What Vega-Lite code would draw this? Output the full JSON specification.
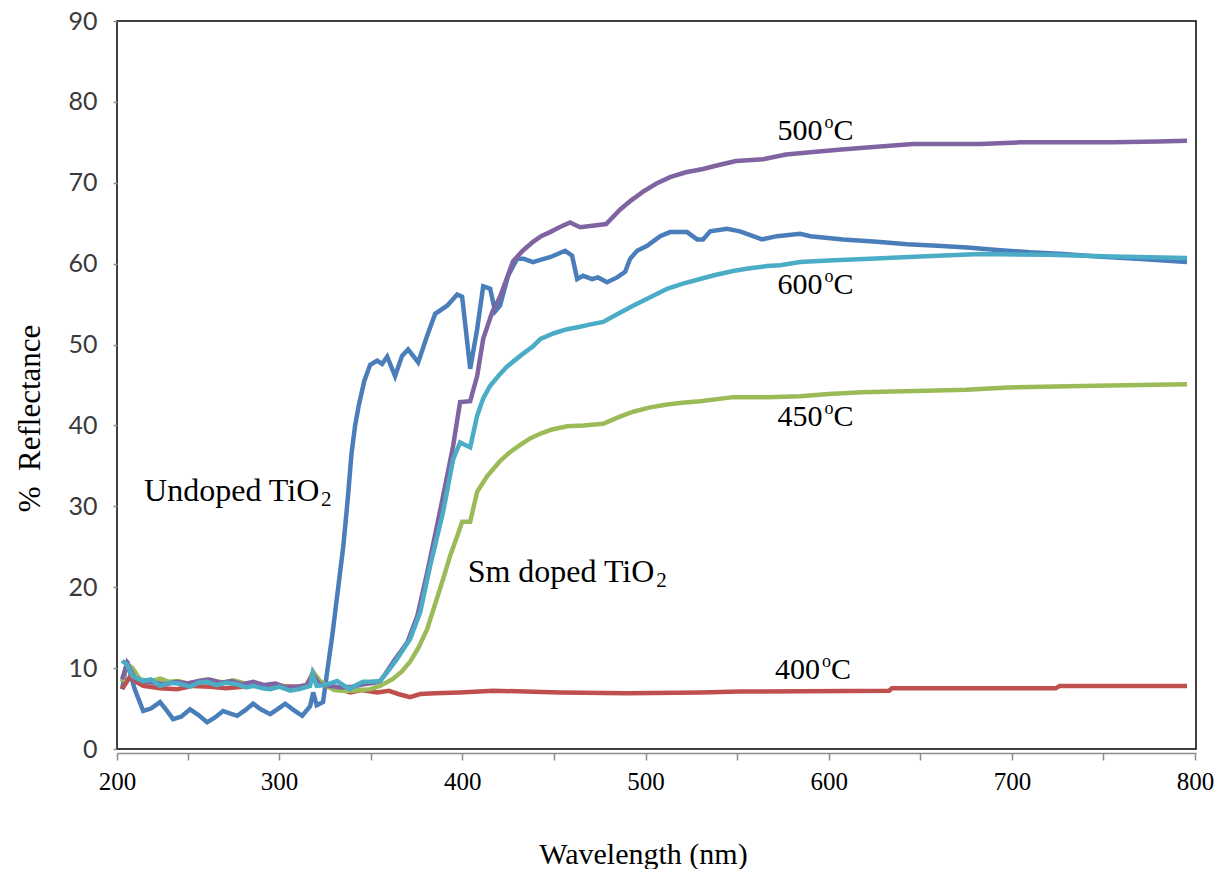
{
  "$schema": "https://vega.github.io/schema/vega-lite/v6.json",
  "width": 1079,
  "height": 728,
  "autosize": "none",
  "padding": {"left": 117, "top": 21, "right": 20, "bottom": 120},
  "config": {"view": {"stroke": "#000", "strokeWidth": 1.5}, "axis": {"grid": false}},
  "datasets": {
    "curves": [
      {"series":"Undoped","wavelength":214.3,"reflectance":7.4},{"series":"Undoped","wavelength":217.0,"reflectance":10.9},{"series":"Undoped","wavelength":221.0,"reflectance":7.5},{"series":"Undoped","wavelength":225.8,"reflectance":4.7},{"series":"Undoped","wavelength":230.0,"reflectance":5.0},{"series":"Undoped","wavelength":235.0,"reflectance":5.8},{"series":"Undoped","wavelength":238.5,"reflectance":4.8},{"series":"Undoped","wavelength":242.1,"reflectance":3.7},{"series":"Undoped","wavelength":246.5,"reflectance":4.0},{"series":"Undoped","wavelength":251.4,"reflectance":4.9},{"series":"Undoped","wavelength":256.0,"reflectance":4.2},{"series":"Undoped","wavelength":260.7,"reflectance":3.3},{"series":"Undoped","wavelength":265.0,"reflectance":3.9},{"series":"Undoped","wavelength":269.4,"reflectance":4.7},{"series":"Undoped","wavelength":273.0,"reflectance":4.4},{"series":"Undoped","wavelength":277.1,"reflectance":4.1},{"series":"Undoped","wavelength":281.5,"reflectance":4.8},{"series":"Undoped","wavelength":285.8,"reflectance":5.6},{"series":"Undoped","wavelength":290.0,"reflectance":4.9},{"series":"Undoped","wavelength":295.1,"reflectance":4.3},{"series":"Undoped","wavelength":299.0,"reflectance":4.9},{"series":"Undoped","wavelength":303.3,"reflectance":5.6},{"series":"Undoped","wavelength":308.0,"reflectance":4.8},{"series":"Undoped","wavelength":312.6,"reflectance":4.1},{"series":"Undoped","wavelength":316.9,"reflectance":5.3},{"series":"Undoped","wavelength":318.6,"reflectance":7.0},{"series":"Undoped","wavelength":320.5,"reflectance":5.4},{"series":"Undoped","wavelength":324.0,"reflectance":5.8},{"series":"Undoped","wavelength":326.2,"reflectance":9.5},{"series":"Undoped","wavelength":329.0,"reflectance":14.0},{"series":"Undoped","wavelength":332.0,"reflectance":19.5},{"series":"Undoped","wavelength":335.0,"reflectance":25.0},{"series":"Undoped","wavelength":337.5,"reflectance":31.0},{"series":"Undoped","wavelength":339.5,"reflectance":36.5},{"series":"Undoped","wavelength":341.5,"reflectance":40.0},{"series":"Undoped","wavelength":343.5,"reflectance":42.5},{"series":"Undoped","wavelength":346.5,"reflectance":45.5},{"series":"Undoped","wavelength":349.7,"reflectance":47.5},{"series":"Undoped","wavelength":353.5,"reflectance":48.0},{"series":"Undoped","wavelength":356.2,"reflectance":47.6},{"series":"Undoped","wavelength":359.0,"reflectance":48.5},{"series":"Undoped","wavelength":363.3,"reflectance":46.1},{"series":"Undoped","wavelength":367.1,"reflectance":48.6},{"series":"Undoped","wavelength":370.4,"reflectance":49.4},{"series":"Undoped","wavelength":373.5,"reflectance":48.5},{"series":"Undoped","wavelength":375.9,"reflectance":47.8},{"series":"Undoped","wavelength":380.8,"reflectance":51.1},{"series":"Undoped","wavelength":385.2,"reflectance":53.8},{"series":"Undoped","wavelength":391.7,"reflectance":54.8},{"series":"Undoped","wavelength":397.2,"reflectance":56.2},{"series":"Undoped","wavelength":399.9,"reflectance":55.9},{"series":"Undoped","wavelength":404.3,"reflectance":47.0},{"series":"Undoped","wavelength":408.1,"reflectance":51.9},{"series":"Undoped","wavelength":411.4,"reflectance":57.2},{"series":"Undoped","wavelength":415.2,"reflectance":56.9},{"series":"Undoped","wavelength":417.9,"reflectance":54.1},{"series":"Undoped","wavelength":420.6,"reflectance":54.8},{"series":"Undoped","wavelength":425.0,"reflectance":58.5},{"series":"Undoped","wavelength":429.9,"reflectance":60.6},{"series":"Undoped","wavelength":433.5,"reflectance":60.6},{"series":"Undoped","wavelength":438.6,"reflectance":60.2},{"series":"Undoped","wavelength":443.0,"reflectance":60.5},{"series":"Undoped","wavelength":447.9,"reflectance":60.8},{"series":"Undoped","wavelength":452.0,"reflectance":61.2},{"series":"Undoped","wavelength":456.1,"reflectance":61.6},{"series":"Undoped","wavelength":459.9,"reflectance":61.0},{"series":"Undoped","wavelength":462.7,"reflectance":58.1},{"series":"Undoped","wavelength":465.9,"reflectance":58.5},{"series":"Undoped","wavelength":470.9,"reflectance":58.1},{"series":"Undoped","wavelength":474.1,"reflectance":58.3},{"series":"Undoped","wavelength":479.0,"reflectance":57.7},{"series":"Undoped","wavelength":484.5,"reflectance":58.3},{"series":"Undoped","wavelength":488.9,"reflectance":59.0},{"series":"Undoped","wavelength":491.6,"reflectance":60.6},{"series":"Undoped","wavelength":495.4,"reflectance":61.6},{"series":"Undoped","wavelength":500.9,"reflectance":62.2},{"series":"Undoped","wavelength":508.0,"reflectance":63.4},{"series":"Undoped","wavelength":513.4,"reflectance":63.9},{"series":"Undoped","wavelength":522.7,"reflectance":63.9},{"series":"Undoped","wavelength":528.2,"reflectance":63.0},{"series":"Undoped","wavelength":531.4,"reflectance":63.0},{"series":"Undoped","wavelength":535.3,"reflectance":64.0},{"series":"Undoped","wavelength":544.5,"reflectance":64.3},{"series":"Undoped","wavelength":551.6,"reflectance":64.0},{"series":"Undoped","wavelength":558.7,"reflectance":63.4},{"series":"Undoped","wavelength":563.6,"reflectance":63.0},{"series":"Undoped","wavelength":571.8,"reflectance":63.4},{"series":"Undoped","wavelength":584.4,"reflectance":63.7},{"series":"Undoped","wavelength":590.0,"reflectance":63.4},{"series":"Undoped","wavelength":607.9,"reflectance":63.0},{"series":"Undoped","wavelength":626.4,"reflectance":62.7},{"series":"Undoped","wavelength":642.8,"reflectance":62.4},{"series":"Undoped","wavelength":659.2,"reflectance":62.2},{"series":"Undoped","wavelength":675.5,"reflectance":62.0},{"series":"Undoped","wavelength":691.9,"reflectance":61.7},{"series":"Undoped","wavelength":709.9,"reflectance":61.4},{"series":"Undoped","wavelength":728.0,"reflectance":61.2},{"series":"Undoped","wavelength":746.5,"reflectance":60.9},{"series":"Undoped","wavelength":768.3,"reflectance":60.6},{"series":"Undoped","wavelength":795.6,"reflectance":60.2},

      {"series":"400","wavelength":214.3,"reflectance":7.4},{"series":"400","wavelength":218.7,"reflectance":9.0},{"series":"400","wavelength":222.0,"reflectance":8.3},{"series":"400","wavelength":225.8,"reflectance":7.8},{"series":"400","wavelength":235.0,"reflectance":7.5},{"series":"400","wavelength":244.3,"reflectance":7.4},{"series":"400","wavelength":253.0,"reflectance":7.8},{"series":"400","wavelength":262.3,"reflectance":7.7},{"series":"400","wavelength":271.0,"reflectance":7.5},{"series":"400","wavelength":280.3,"reflectance":7.7},{"series":"400","wavelength":289.0,"reflectance":7.9},{"series":"400","wavelength":298.9,"reflectance":7.8},{"series":"400","wavelength":309.8,"reflectance":7.7},{"series":"400","wavelength":315.0,"reflectance":7.9},{"series":"400","wavelength":318.6,"reflectance":9.5},{"series":"400","wavelength":322.0,"reflectance":8.2},{"series":"400","wavelength":326.2,"reflectance":7.7},{"series":"400","wavelength":332.0,"reflectance":7.5},{"series":"400","wavelength":338.8,"reflectance":7.0},{"series":"400","wavelength":345.0,"reflectance":7.3},{"series":"400","wavelength":353.5,"reflectance":7.0},{"series":"400","wavelength":360.0,"reflectance":7.2},{"series":"400","wavelength":365.0,"reflectance":6.8},{"series":"400","wavelength":371.5,"reflectance":6.4},{"series":"400","wavelength":377.0,"reflectance":6.8},{"series":"400","wavelength":385.0,"reflectance":6.9},{"series":"400","wavelength":398.8,"reflectance":7.0},{"series":"400","wavelength":416.8,"reflectance":7.2},{"series":"400","wavelength":453.4,"reflectance":7.0},{"series":"400","wavelength":490.0,"reflectance":6.9},{"series":"400","wavelength":530.0,"reflectance":7.0},{"series":"400","wavelength":551.6,"reflectance":7.1},{"series":"400","wavelength":633.0,"reflectance":7.2},{"series":"400","wavelength":634.5,"reflectance":7.5},{"series":"400","wavelength":724.0,"reflectance":7.5},{"series":"400","wavelength":726.0,"reflectance":7.8},{"series":"400","wavelength":795.6,"reflectance":7.8},

      {"series":"450","wavelength":214.3,"reflectance":8.3},{"series":"450","wavelength":217.0,"reflectance":10.5},{"series":"450","wavelength":220.0,"reflectance":10.0},{"series":"450","wavelength":224.0,"reflectance":8.6},{"series":"450","wavelength":230.0,"reflectance":8.4},{"series":"450","wavelength":235.0,"reflectance":8.7},{"series":"450","wavelength":240.0,"reflectance":8.3},{"series":"450","wavelength":245.0,"reflectance":8.4},{"series":"450","wavelength":250.0,"reflectance":8.1},{"series":"450","wavelength":255.0,"reflectance":8.3},{"series":"450","wavelength":260.0,"reflectance":8.6},{"series":"450","wavelength":265.0,"reflectance":8.4},{"series":"450","wavelength":270.0,"reflectance":8.2},{"series":"450","wavelength":275.0,"reflectance":8.5},{"series":"450","wavelength":280.0,"reflectance":8.2},{"series":"450","wavelength":285.0,"reflectance":8.0},{"series":"450","wavelength":290.0,"reflectance":7.9},{"series":"450","wavelength":295.0,"reflectance":7.7},{"series":"450","wavelength":300.0,"reflectance":7.9},{"series":"450","wavelength":305.0,"reflectance":7.6},{"series":"450","wavelength":310.0,"reflectance":7.7},{"series":"450","wavelength":315.0,"reflectance":7.8},{"series":"450","wavelength":318.6,"reflectance":9.5},{"series":"450","wavelength":322.0,"reflectance":8.5},{"series":"450","wavelength":326.0,"reflectance":7.8},{"series":"450","wavelength":330.0,"reflectance":7.3},{"series":"450","wavelength":335.0,"reflectance":7.2},{"series":"450","wavelength":340.0,"reflectance":7.2},{"series":"450","wavelength":345.0,"reflectance":7.3},{"series":"450","wavelength":350.0,"reflectance":7.4},{"series":"450","wavelength":355.1,"reflectance":7.8},{"series":"450","wavelength":362.3,"reflectance":8.7},{"series":"450","wavelength":367.0,"reflectance":9.6},{"series":"450","wavelength":371.5,"reflectance":10.8},{"series":"450","wavelength":376.0,"reflectance":12.5},{"series":"450","wavelength":380.8,"reflectance":14.8},{"series":"450","wavelength":385.0,"reflectance":17.8},{"series":"450","wavelength":389.5,"reflectance":21.0},{"series":"450","wavelength":393.5,"reflectance":24.0},{"series":"450","wavelength":397.2,"reflectance":26.3},{"series":"450","wavelength":399.9,"reflectance":28.1},{"series":"450","wavelength":404.3,"reflectance":28.1},{"series":"450","wavelength":408.1,"reflectance":31.8},{"series":"450","wavelength":413.5,"reflectance":33.7},{"series":"450","wavelength":420.6,"reflectance":35.6},{"series":"450","wavelength":426.0,"reflectance":36.7},{"series":"450","wavelength":431.6,"reflectance":37.6},{"series":"450","wavelength":437.0,"reflectance":38.4},{"series":"450","wavelength":442.7,"reflectance":39.0},{"series":"450","wavelength":449.0,"reflectance":39.5},{"series":"450","wavelength":457.2,"reflectance":39.9},{"series":"450","wavelength":466.0,"reflectance":40.0},{"series":"450","wavelength":476.9,"reflectance":40.2},{"series":"450","wavelength":485.0,"reflectance":41.0},{"series":"450","wavelength":493.2,"reflectance":41.7},{"series":"450","wavelength":502.0,"reflectance":42.2},{"series":"450","wavelength":511.8,"reflectance":42.6},{"series":"450","wavelength":520.0,"reflectance":42.8},{"series":"450","wavelength":529.8,"reflectance":43.0},{"series":"450","wavelength":547.8,"reflectance":43.5},{"series":"450","wavelength":566.4,"reflectance":43.5},{"series":"450","wavelength":584.4,"reflectance":43.6},{"series":"450","wavelength":600.0,"reflectance":43.9},{"series":"450","wavelength":618.0,"reflectance":44.1},{"series":"450","wavelength":653.0,"reflectance":44.3},{"series":"450","wavelength":675.0,"reflectance":44.4},{"series":"450","wavelength":698.0,"reflectance":44.7},{"series":"450","wavelength":746.0,"reflectance":44.9},{"series":"450","wavelength":770.0,"reflectance":45.0},{"series":"450","wavelength":795.6,"reflectance":45.1},

      {"series":"500","wavelength":214.3,"reflectance":8.6},{"series":"500","wavelength":217.0,"reflectance":10.6},{"series":"500","wavelength":221.0,"reflectance":8.8},{"series":"500","wavelength":226.0,"reflectance":8.3},{"series":"500","wavelength":232.0,"reflectance":8.2},{"series":"500","wavelength":238.0,"reflectance":8.0},{"series":"500","wavelength":244.0,"reflectance":8.3},{"series":"500","wavelength":250.0,"reflectance":8.1},{"series":"500","wavelength":256.0,"reflectance":8.4},{"series":"500","wavelength":262.0,"reflectance":8.6},{"series":"500","wavelength":268.0,"reflectance":8.2},{"series":"500","wavelength":274.0,"reflectance":8.4},{"series":"500","wavelength":280.0,"reflectance":8.0},{"series":"500","wavelength":286.0,"reflectance":8.3},{"series":"500","wavelength":292.0,"reflectance":7.9},{"series":"500","wavelength":298.0,"reflectance":8.1},{"series":"500","wavelength":304.0,"reflectance":7.6},{"series":"500","wavelength":310.0,"reflectance":7.7},{"series":"500","wavelength":315.0,"reflectance":7.9},{"series":"500","wavelength":318.6,"reflectance":9.2},{"series":"500","wavelength":322.0,"reflectance":8.0},{"series":"500","wavelength":328.0,"reflectance":7.8},{"series":"500","wavelength":334.0,"reflectance":7.6},{"series":"500","wavelength":340.0,"reflectance":7.7},{"series":"500","wavelength":346.0,"reflectance":8.0},{"series":"500","wavelength":352.0,"reflectance":8.2},{"series":"500","wavelength":355.1,"reflectance":8.4},{"series":"500","wavelength":358.0,"reflectance":9.3},{"series":"500","wavelength":363.0,"reflectance":11.0},{"series":"500","wavelength":370.0,"reflectance":13.2},{"series":"500","wavelength":375.5,"reflectance":16.5},{"series":"500","wavelength":381.0,"reflectance":22.0},{"series":"500","wavelength":387.0,"reflectance":28.5},{"series":"500","wavelength":391.5,"reflectance":33.5},{"series":"500","wavelength":395.0,"reflectance":37.5},{"series":"500","wavelength":397.8,"reflectance":41.5},{"series":"500","wavelength":398.8,"reflectance":42.9},{"series":"500","wavelength":404.3,"reflectance":43.0},{"series":"500","wavelength":408.1,"reflectance":46.1},{"series":"500","wavelength":411.4,"reflectance":50.7},{"series":"500","wavelength":416.3,"reflectance":54.0},{"series":"500","wavelength":420.6,"reflectance":55.9},{"series":"500","wavelength":427.7,"reflectance":60.3},{"series":"500","wavelength":433.0,"reflectance":61.6},{"series":"500","wavelength":438.6,"reflectance":62.7},{"series":"500","wavelength":443.0,"reflectance":63.4},{"series":"500","wavelength":447.9,"reflectance":63.9},{"series":"500","wavelength":453.0,"reflectance":64.5},{"series":"500","wavelength":458.8,"reflectance":65.1},{"series":"500","wavelength":464.3,"reflectance":64.5},{"series":"500","wavelength":471.0,"reflectance":64.7},{"series":"500","wavelength":478.5,"reflectance":64.9},{"series":"500","wavelength":486.2,"reflectance":66.7},{"series":"500","wavelength":492.0,"reflectance":67.8},{"series":"500","wavelength":498.7,"reflectance":68.9},{"series":"500","wavelength":506.0,"reflectance":69.9},{"series":"500","wavelength":513.4,"reflectance":70.7},{"series":"500","wavelength":522.0,"reflectance":71.3},{"series":"500","wavelength":531.4,"reflectance":71.7},{"series":"500","wavelength":540.0,"reflectance":72.2},{"series":"500","wavelength":549.4,"reflectance":72.7},{"series":"500","wavelength":564.2,"reflectance":72.9},{"series":"500","wavelength":576.7,"reflectance":73.5},{"series":"500","wavelength":591.5,"reflectance":73.8},{"series":"500","wavelength":607.0,"reflectance":74.1},{"series":"500","wavelength":622.6,"reflectance":74.4},{"series":"500","wavelength":646.1,"reflectance":74.8},{"series":"500","wavelength":682.6,"reflectance":74.8},{"series":"500","wavelength":704.5,"reflectance":75.0},{"series":"500","wavelength":755.2,"reflectance":75.0},{"series":"500","wavelength":780.0,"reflectance":75.1},{"series":"500","wavelength":795.6,"reflectance":75.2},

      {"series":"600","wavelength":214.3,"reflectance":10.9},{"series":"600","wavelength":217.0,"reflectance":10.4},{"series":"600","wavelength":220.0,"reflectance":9.0},{"series":"600","wavelength":225.8,"reflectance":8.4},{"series":"600","wavelength":230.0,"reflectance":8.6},{"series":"600","wavelength":235.0,"reflectance":7.8},{"series":"600","wavelength":240.0,"reflectance":8.2},{"series":"600","wavelength":245.0,"reflectance":8.1},{"series":"600","wavelength":251.4,"reflectance":7.7},{"series":"600","wavelength":256.0,"reflectance":8.2},{"series":"600","wavelength":260.7,"reflectance":8.3},{"series":"600","wavelength":266.0,"reflectance":7.9},{"series":"600","wavelength":271.0,"reflectance":8.2},{"series":"600","wavelength":277.1,"reflectance":8.0},{"series":"600","wavelength":282.0,"reflectance":7.6},{"series":"600","wavelength":286.0,"reflectance":7.8},{"series":"600","wavelength":291.0,"reflectance":7.5},{"series":"600","wavelength":295.1,"reflectance":7.4},{"series":"600","wavelength":300.0,"reflectance":7.7},{"series":"600","wavelength":306.0,"reflectance":7.2},{"series":"600","wavelength":311.0,"reflectance":7.4},{"series":"600","wavelength":316.9,"reflectance":7.8},{"series":"600","wavelength":318.2,"reflectance":9.3},{"series":"600","wavelength":320.5,"reflectance":7.8},{"series":"600","wavelength":325.0,"reflectance":7.9},{"series":"600","wavelength":331.7,"reflectance":8.4},{"series":"600","wavelength":335.0,"reflectance":7.9},{"series":"600","wavelength":338.8,"reflectance":7.4},{"series":"600","wavelength":342.0,"reflectance":7.9},{"series":"600","wavelength":345.8,"reflectance":8.3},{"series":"600","wavelength":350.0,"reflectance":8.3},{"series":"600","wavelength":355.1,"reflectance":8.4},{"series":"600","wavelength":359.0,"reflectance":9.5},{"series":"600","wavelength":364.0,"reflectance":11.0},{"series":"600","wavelength":371.5,"reflectance":13.6},{"series":"600","wavelength":377.0,"reflectance":16.9},{"series":"600","wavelength":382.4,"reflectance":22.6},{"series":"600","wavelength":389.5,"reflectance":29.3},{"series":"600","wavelength":395.0,"reflectance":35.8},{"series":"600","wavelength":398.8,"reflectance":37.9},{"series":"600","wavelength":400.4,"reflectance":37.7},{"series":"600","wavelength":404.3,"reflectance":37.3},{"series":"600","wavelength":408.1,"reflectance":41.2},{"series":"600","wavelength":411.5,"reflectance":43.4},{"series":"600","wavelength":415.2,"reflectance":44.9},{"series":"600","wavelength":420.0,"reflectance":46.2},{"series":"600","wavelength":424.5,"reflectance":47.3},{"series":"600","wavelength":431.6,"reflectance":48.6},{"series":"600","wavelength":438.6,"reflectance":49.8},{"series":"600","wavelength":442.7,"reflectance":50.7},{"series":"600","wavelength":450.0,"reflectance":51.4},{"series":"600","wavelength":457.2,"reflectance":51.9},{"series":"600","wavelength":464.3,"reflectance":52.2},{"series":"600","wavelength":470.0,"reflectance":52.5},{"series":"600","wavelength":476.9,"reflectance":52.8},{"series":"600","wavelength":485.0,"reflectance":53.8},{"series":"600","wavelength":493.2,"reflectance":54.8},{"series":"600","wavelength":502.0,"reflectance":55.8},{"series":"600","wavelength":511.8,"reflectance":56.9},{"series":"600","wavelength":520.0,"reflectance":57.5},{"series":"600","wavelength":529.8,"reflectance":58.1},{"series":"600","wavelength":538.0,"reflectance":58.6},{"series":"600","wavelength":547.8,"reflectance":59.1},{"series":"600","wavelength":556.0,"reflectance":59.4},{"series":"600","wavelength":566.4,"reflectance":59.7},{"series":"600","wavelength":573.5,"reflectance":59.8},{"series":"600","wavelength":584.4,"reflectance":60.2},{"series":"600","wavelength":600.0,"reflectance":60.4},{"series":"600","wavelength":622.6,"reflectance":60.6},{"series":"600","wavelength":649.9,"reflectance":60.9},{"series":"600","wavelength":682.6,"reflectance":61.2},{"series":"600","wavelength":719.2,"reflectance":61.1},{"series":"600","wavelength":755.2,"reflectance":60.9},{"series":"600","wavelength":795.6,"reflectance":60.7}
    ],
    "temps": [
      {"wavelength":572.0,"reflectance":75.3,"label":"500"},
      {"wavelength":572.0,"reflectance":56.2,"label":"600"},
      {"wavelength":572.0,"reflectance":39.9,"label":"450"},
      {"wavelength":570.7,"reflectance":8.65,"label":"400"}
    ],
    "samples": [
      {"wavelength":226.3,"reflectance":30.7,"label":"Undoped TiO","sub":322.9},
      {"wavelength":402.9,"reflectance":20.6,"label":"Sm doped TiO","sub":505.8}
    ]
  },
  "layer": [
    {
      "data": {"name": "curves"},
      "mark": {"type": "line", "strokeWidth": 4.5},
      "encoding": {
        "x": {
          "field": "wavelength", "type": "quantitative",
          "scale": {"domain": [211.5, 800.5], "nice": false, "zero": false},
          "axis": {
            "orient": "bottom", "offset": 4,
            "values": [211.5, 250, 300, 350, 400, 450, 500, 550, 600, 650, 700, 750, 800],
            "labelExpr": "datum.value < 240 ? '200' : (datum.value % 100 == 0 ? datum.label : '')",
            "labelFlush": false, "labelOverlap": false,
            "domainColor": "#8c8c8c", "domainWidth": 1.5,
            "tickColor": "#8c8c8c", "tickSize": 7, "tickWidth": 1.5,
            "labelFont": "Liberation Serif", "labelFontSize": 25, "labelColor": "#000", "labelPadding": 9,
            "title": "Wavelength (nm)", "titleFont": "Liberation Serif", "titleFontSize": 30,
            "titleFontWeight": "normal", "titleColor": "#000",
            "titleX": 526, "titleY": 110, "titleAlign": "center", "titleBaseline": "alphabetic"
          }
        },
        "y": {
          "field": "reflectance", "type": "quantitative",
          "scale": {"domain": [0, 90], "nice": false},
          "axis": {
            "values": [0, 10, 20, 30, 40, 50, 60, 70, 80, 90],
            "domain": false, "tickColor": "#8c8c8c", "tickSize": 4, "tickWidth": 1.5,
            "labelFont": "Lato", "labelFontSize": 25, "labelColor": "#3a3a3a", "labelPadding": 16,
            "title": "% \u00a0Reflectance", "titleFont": "Liberation Serif", "titleFontSize": 31,
            "titleFontWeight": "normal", "titleColor": "#000",
            "titleX": -87, "titleY": 397, "titleAngle": -90, "titleAlign": "center", "titleBaseline": "middle"
          }
        },
        "color": {
          "field": "series", "type": "nominal",
          "scale": {"domain": ["Undoped", "400", "450", "500", "600"], "range": ["#4A7EBB", "#C0504D", "#9BBB59", "#8064A2", "#4BACC6"]},
          "legend": null
        }
      }
    },
    {
      "data": {"name": "temps"},
      "mark": {"type": "text", "align": "left", "baseline": "alphabetic", "font": "Liberation Serif", "fontSize": 30, "color": "#000"},
      "encoding": {
        "x": {"field": "wavelength", "type": "quantitative"},
        "y": {"field": "reflectance", "type": "quantitative"},
        "text": {"field": "label"}
      }
    },
    {
      "data": {"name": "temps"},
      "mark": {"type": "text", "align": "left", "baseline": "alphabetic", "font": "Liberation Serif", "fontSize": 18, "color": "#000", "dx": 47, "dy": -12},
      "encoding": {
        "x": {"field": "wavelength", "type": "quantitative"},
        "y": {"field": "reflectance", "type": "quantitative"},
        "text": {"value": "o"}
      }
    },
    {
      "data": {"name": "temps"},
      "mark": {"type": "text", "align": "left", "baseline": "alphabetic", "font": "Liberation Serif", "fontSize": 30, "color": "#000", "dx": 56},
      "encoding": {
        "x": {"field": "wavelength", "type": "quantitative"},
        "y": {"field": "reflectance", "type": "quantitative"},
        "text": {"value": "C"}
      }
    },
    {
      "data": {"name": "samples"},
      "mark": {"type": "text", "align": "left", "baseline": "alphabetic", "font": "Liberation Serif", "fontSize": 32, "color": "#000"},
      "encoding": {
        "x": {"field": "wavelength", "type": "quantitative"},
        "y": {"field": "reflectance", "type": "quantitative"},
        "text": {"field": "label"}
      }
    },
    {
      "data": {"name": "samples"},
      "mark": {"type": "text", "align": "left", "baseline": "alphabetic", "font": "Liberation Serif", "fontSize": 21, "color": "#000", "dy": 5},
      "encoding": {
        "x": {"field": "sub", "type": "quantitative"},
        "y": {"field": "reflectance", "type": "quantitative"},
        "text": {"value": "2"}
      }
    }
  ]
}
